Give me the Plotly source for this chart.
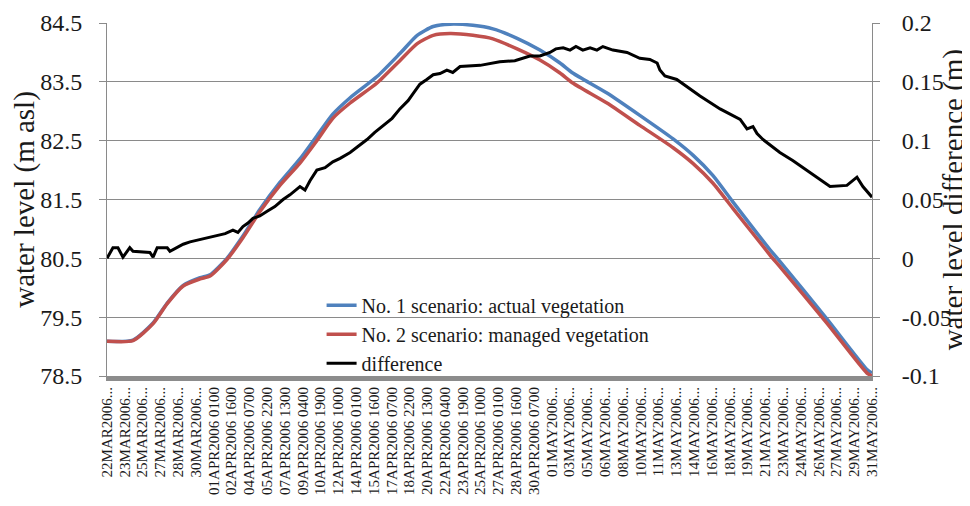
import plotly.graph_objects as go

# hours since 22MAR2006 0700 (hourly record, labels every 39 h)
tick_labels = [
    "22MAR2006...", "23MAR2006...", "25MAR2006...", "27MAR2006...", "28MAR2006...", "30MAR2006...",
    "01APR2006 0100", "02APR2006 1600", "04APR2006 0700", "05APR2006 2200", "07APR2006 1300",
    "09APR2006 0400", "10APR2006 1900", "12APR2006 1000", "14APR2006 0100", "15APR2006 1600",
    "17APR2006 0700", "18APR2006 2200", "20APR2006 1300", "22APR2006 0400", "23APR2006 1900",
    "25APR2006 1000", "27APR2006 0100", "28APR2006 1600", "30APR2006 0700",
    "01MAY2006...", "03MAY2006...", "05MAY2006...", "06MAY2006...", "08MAY2006...", "10MAY2006...",
    "11MAY2006...", "13MAY2006...", "14MAY2006...", "16MAY2006...", "18MAY2006...", "19MAY2006...",
    "21MAY2006...", "23MAY2006...", "24MAY2006...", "26MAY2006...", "27MAY2006...", "29MAY2006...",
    "31MAY2006...",
]
tick_hours = [i * 39 for i in range(len(tick_labels))]

# water level, scenarios 1 and 2 (m asl)
level_hours = [0, 57, 101, 132, 167, 204, 226, 263, 298, 335, 379, 423, 460, 495, 533, 592,
               642, 680, 715, 752, 802, 846, 899, 949, 993, 1021, 1096, 1168, 1241, 1285,
               1328, 1372, 1453, 1475, 1578, 1666, 1677]
actual = [79.09, 79.11, 79.40, 79.74, 80.04, 80.17, 80.22, 80.50, 80.88, 81.33, 81.79, 82.19,
          82.58, 82.95, 83.23, 83.59, 83.98, 84.29, 84.44, 84.48, 84.46, 84.40, 84.24, 84.04,
          83.82, 83.65, 83.31, 82.93, 82.53, 82.25, 81.91, 81.46, 80.65, 80.45, 79.47, 78.61,
          78.55]
managed = [79.09, 79.10, 79.39, 79.73, 80.03, 80.15, 80.20, 80.48, 80.85, 81.29, 81.74, 82.12,
           82.50, 82.88, 83.14, 83.48, 83.86, 84.15, 84.29, 84.32, 84.29, 84.23, 84.06, 83.87,
           83.65, 83.48, 83.14, 82.76, 82.38, 82.11, 81.78, 81.35, 80.56, 80.36, 79.40, 78.55,
           78.50]

# difference between scenarios (m)
diff_hours = [0, 13, 24, 35, 50, 57, 94, 101, 110, 132, 138, 167, 182, 204, 226, 241, 259,
              276, 287, 298, 309, 320, 335, 351, 368, 386, 401, 423, 434, 445, 460, 478, 495,
              511, 533, 550, 570, 587, 605, 625, 642, 660, 671, 686, 701, 715, 730, 745, 758,
              774, 818, 861, 894, 927, 949, 971, 984, 1000, 1015, 1028, 1043, 1059, 1074, 1087,
              1109, 1140, 1168, 1190, 1206, 1212, 1223, 1249, 1300, 1344, 1388, 1403, 1416,
              1425, 1438, 1475, 1504, 1548, 1585, 1622, 1644, 1657, 1677]
difference = [0.000, 0.009, 0.009, 0.001, 0.009, 0.006, 0.005, 0.001, 0.009, 0.009, 0.006,
              0.012, 0.014, 0.016, 0.018, 0.019, 0.021, 0.024, 0.022, 0.027, 0.030, 0.034,
              0.036, 0.040, 0.044, 0.050, 0.054, 0.061, 0.058, 0.066, 0.075, 0.077, 0.082,
              0.085, 0.090, 0.095, 0.101, 0.107, 0.113, 0.119, 0.127, 0.134, 0.140, 0.148,
              0.152, 0.156, 0.157, 0.160, 0.158, 0.163, 0.164, 0.167, 0.168, 0.172, 0.172,
              0.175, 0.178, 0.179, 0.177, 0.180, 0.177, 0.179, 0.177, 0.180, 0.177, 0.175,
              0.170, 0.169, 0.166, 0.160, 0.155, 0.152, 0.138, 0.127, 0.118, 0.110, 0.112,
              0.106, 0.101, 0.090, 0.083, 0.071, 0.061, 0.062, 0.069, 0.061, 0.052]

diff_ticks = [-0.1, -0.05, 0, 0.05, 0.1, 0.15, 0.2]
diff_tick_text = ["-0.1", "-0.05", "0", "0.05", "0.1", "0.15", "0.2"]
level_ticks = [78.5, 79.5, 80.5, 81.5, 82.5, 83.5, 84.5]

SERIF = "Liberation Serif"
GRID = "#8a8a8a"

fig = go.Figure()

fig.add_trace(go.Scatter(
    x=level_hours, y=actual, mode="lines",
    name="No. 1 scenario: actual vegetation",
    line=dict(color="#4F81BD", width=3.5, shape="spline", smoothing=0.6)
))
fig.add_trace(go.Scatter(
    x=level_hours, y=managed, mode="lines",
    name="No. 2 scenario: managed vegetation",
    line=dict(color="#C0504D", width=3.5, shape="spline", smoothing=0.6)
))
fig.add_trace(go.Scatter(
    x=diff_hours, y=difference, mode="lines", yaxis="y2",
    name="difference",
    line=dict(color="black", width=3)
))

# the page body adds an 8 px offset, so the margins are trimmed on the top/left
fig.update_layout(
    width=970, height=506,
    margin=dict(l=99, r=106, t=15, b=138, autoexpand=False),
    plot_bgcolor="white", paper_bgcolor="white",
    font=dict(family=SERIF, color="#1a1a1a"),
    showlegend=True,
    legend=dict(
        x=0.2805, y=0.256, xanchor="left", yanchor="top",
        bgcolor="rgba(0,0,0,0)", font=dict(size=20, family=SERIF),
        itemwidth=30, tracegroupgap=0
    ),
    xaxis=dict(
        range=[0, 1677], tickvals=tick_hours, ticktext=tick_labels,
        tickangle=-90, tickfont=dict(size=15, family=SERIF),
        showgrid=False, zeroline=False, automargin=False,
        showline=True, linecolor="#8c8c8c", linewidth=5,
        ticks="", ticklen=0
    ),
    yaxis=dict(
        range=[78.5, 84.5], tickvals=level_ticks, automargin=False,
        ticklabeloverflow="allow",
        tickfont=dict(size=24, family=SERIF), showgrid=True, gridcolor=GRID, gridwidth=1,
        zeroline=False, showline=True, linecolor=GRID, linewidth=1,
        ticks="outside", ticklen=7, tickcolor=GRID, ticklabelstandoff=12,
        title=dict(text="water level (m asl)", font=dict(size=29, family=SERIF), standoff=10)
    ),
    yaxis2=dict(
        overlaying="y", side="right", range=[-0.1, 0.2], automargin=False,
        ticklabeloverflow="allow",
        tickvals=diff_ticks, ticktext=diff_tick_text,
        tickfont=dict(size=24, family=SERIF), showgrid=False, zeroline=False,
        showline=True, linecolor=GRID, linewidth=1,
        ticks="outside", ticklen=7, tickcolor=GRID, ticklabelstandoff=17
    ),
)

# right axis title as an annotation so it can sit close to the figure edge
fig.add_annotation(
    text="water level difference (m)", xref="paper", yref="paper",
    x=1.107, y=0.5, xanchor="center", yanchor="middle",
    textangle=-90, showarrow=False,
    font=dict(size=29, family=SERIF, color="#1a1a1a")
)

fig.write_html("out.html")
